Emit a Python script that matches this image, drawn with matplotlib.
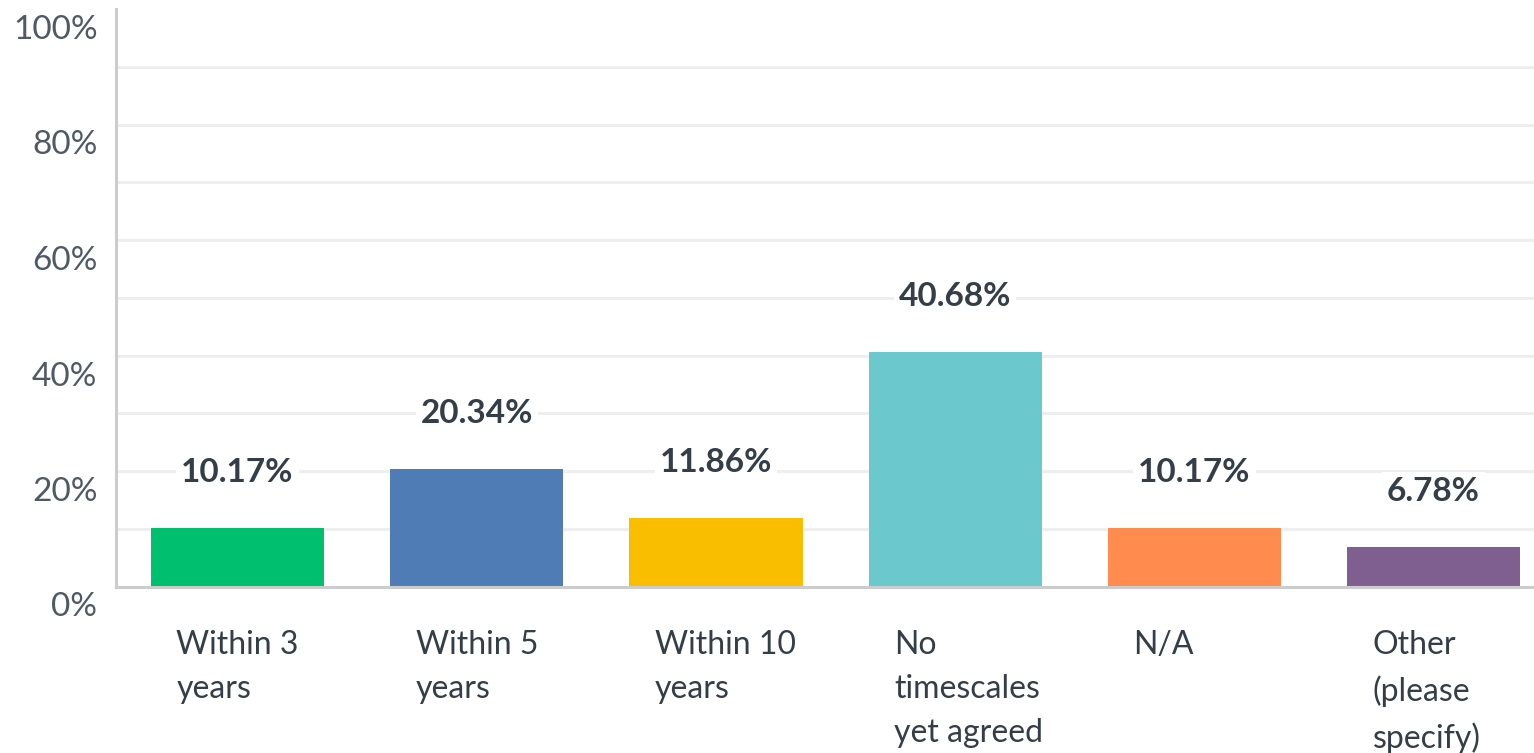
import matplotlib
matplotlib.use("Agg")
import matplotlib.pyplot as plt
from matplotlib.transforms import ScaledTranslation

categories = ["Within 3\nyears", "Within 5\nyears", "Within 10\nyears",
              "No\ntimescales\nyet agreed", "N/A", "Other\n(please\nspecify)"]
values = [10.17, 20.34, 11.86, 40.68, 10.17, 6.78]
colors = ["#00bf6f", "#507cb6", "#f9be00", "#6bc8cd", "#ff8b4f", "#7f5f90"]
ytick_values = [0, 20, 40, 60, 80, 100]
ytick_labels = ["0%", "20%", "40%", "60%", "80%", "100%"]

plt.rcParams["font.family"] = ["Lato", "DejaVu Sans"]
text_color = "#333e48"

fig = plt.figure(figsize=(15.34, 7.53), dpi=100)
ax = fig.add_axes([115.5 / 1534, 166.5 / 753, 1418.5 / 1534, 577.5 / 753])

x = list(range(len(categories)))
ax.bar(x, values, width=0.724, color=colors, zorder=2)

ax.set_xlim(-0.51, 5.42)
ax.set_ylim(0, 100)

# light horizontal grid every 10%
for v in range(10, 100, 10):
    ax.axhline(v, color="#eeeeee", linewidth=2.2, zorder=0)

for side in ("top", "right"):
    ax.spines[side].set_visible(False)
for side in ("left", "bottom"):
    ax.spines[side].set_color("#cccccc")
    ax.spines[side].set_linewidth(2.2)
    ax.spines[side].set_zorder(3)

ax.set_yticks(ytick_values)
ax.set_yticklabels(ytick_labels, fontsize=24, color="#4f5a65")
ax.tick_params(axis="y", length=0, pad=13)
for lab in ax.get_yticklabels():
    lab.set_transform(lab.get_transform() + ScaledTranslation(0, -18 / 100, fig.dpi_scale_trans))

ax.set_xticks(x)
ax.set_xticklabels(categories, fontsize=23, color=text_color, ha="left",
                   linespacing=1.6)
ax.tick_params(axis="x", length=0, pad=31)
for lab in ax.get_xticklabels():
    lab.set_transform(lab.get_transform() + ScaledTranslation(-61 / 100, 0, fig.dpi_scale_trans))

for xi, v in zip(x, values):
    ax.annotate(f"{v:.2f}%", (xi, v), xytext=(0, 40), textcoords="offset points",
                ha="center", va="center", fontsize=24, fontweight="bold",
                color=text_color, zorder=4,
                bbox=dict(boxstyle="square,pad=0.15", fc="white", ec="none"))

fig.savefig("out.png", dpi=100)
